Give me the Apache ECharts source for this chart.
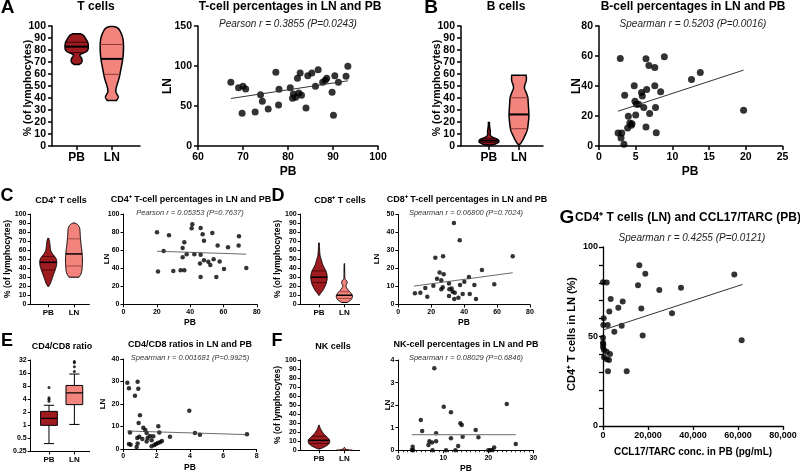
<!DOCTYPE html>
<html><head><meta charset="utf-8">
<script src="https://cdn.jsdelivr.net/npm/echarts@6/dist/echarts.min.js"></script>
<style>html,body{margin:0;padding:0;background:#fff}#c{width:800px;height:473px}</style>
</head><body><div id="c"></div>
<script>
// ---------------- DATA ----------------
const groups = ['PB', 'LN'];

// A: T cells  (violin profiles: [value, relative density])
const tcellPB_profile = [[68,0.22],[69,0.38],[70.5,0.46],[72,0.46],[73.5,0.4],[75,0.3],[76,0.3],[77,0.45],[78,0.7],[79,0.88],[80.5,0.98],[83,1],[85.5,0.98],[87.5,0.9],[89.5,0.78],[91,0.68],[92.5,0.55],[93.5,0.35]];
const tcellLN_profile = [[38,0.4],[39.5,0.5],[41,0.55],[43,0.45],[45,0.35],[47,0.35],[50,0.42],[54,0.55],[58,0.66],[62,0.74],[66,0.82],[70,0.9],[75,0.97],[80,1],[85,1],[89,0.96],[92,0.88],[95,0.75],[97.5,0.6],[99,0.4],[99.5,0.2]];
const tcellPB_quart = [77.8, 82.8, 86.5];
const tcellLN_quart = [59.7, 72.6, 84.6];
const tcellPairs = [[67.3,79.6],[69.0,72.9],[70.0,74.6],[70.6,71.3],[69.8,40.8],[72.7,42.5],[73.9,64.2],[74.3,55.8],[75.6,46.3],[77.3,92.1],[78.0,70.8],[77.9,51.3],[80.5,72.9],[81.0,59.6],[81.2,65.0],[81.7,60.8],[82.1,84.6],[82.4,66.3],[82.7,91.3],[83.0,63.3],[84.0,47.5],[84.4,87.9],[85.3,91.3],[86.1,74.6],[86.7,95.4],[87.7,79.6],[88.3,82.1],[88.6,84.6],[89.8,67.1],[90.1,38.3],[90.4,87.9],[91.2,79.6],[92.9,87.1],[93.3,99.6]];
const tcellFit = [[67.3,59.4],[93.3,81.5]];

// B: B cells
const bcellPB_profile = [[0.8,0.35],[1.5,0.6],[2.5,0.85],[3.5,1],[5,0.95],[6,0.75],[7,0.45],[8,0.25],[9,0.15],[10.5,0.12],[12,0.14],[13.5,0.12],[15,0.08],[17,0.06],[19.5,0.05]];
const bcellLN_profile = [[1,0.06],[3,0.25],[6,0.45],[9,0.62],[12,0.78],[15,0.88],[20,0.95],[25,1],[30,0.98],[35,0.94],[40,0.9],[43,0.8],[46,0.65],[48.5,0.55],[51,0.6],[54,0.72],[57,0.75],[59,0.72]];
const bcellPB_quart = [2.8, 4.5, 6.2];
const bcellLN_quart = [14.4, 26.3, 40.2];
const bcellPairs = [[2.9,58.4],[2.6,8.7],[3.1,8.7],[3.0,5.3],[3.4,1.1],[3.5,33.9],[3.9,12.0],[4.0,19.8],[4.2,15.4],[4.4,13.8],[4.5,14.9],[4.8,40.1],[4.9,29.8],[5.0,20.7],[5.1,27.8],[5.4,27.8],[5.8,35.6],[5.9,33.4],[6.1,25.6],[6.4,12.7],[6.4,58.1],[6.5,37.6],[6.8,53.7],[6.9,21.6],[7.6,52.3],[7.6,40.1],[7.7,25.6],[7.8,8.9],[8.4,36.1],[8.9,59.5],[12.6,44.3],[13.8,49.0],[19.7,23.8]];
const bcellFit = [[2.6,23.2],[19.7,50.6]];

// C: CD4+ T cells
const cd4PB_profile = [[20,0.08],[23,0.25],[27,0.4],[31,0.55],[35,0.7],[39,0.85],[43,0.97],[47,1],[50,0.95],[53,0.75],[56,0.5],[59,0.32],[62,0.25],[66,0.2],[70,0.15],[73,0.08]];
const cd4LN_profile = [[30,0.6],[33,0.8],[37,0.92],[42,0.98],[48,1],[54,0.98],[60,0.92],[65,0.85],[70,0.8],[75,0.75],[80,0.72],[84,0.68],[87,0.55],[89,0.35],[90,0.12]];
const cd4PB_quart = [38, 46.5, 53];
const cd4LN_quart = [42.5, 55.8, 72.5];
const cd4Pairs = [[20.1,79.8],[27.3,76.5],[41.3,88.6],[40.9,84.2],[46.3,84.5],[47.5,77.6],[53.3,79.0],[36.5,68.7],[48.3,70.5],[56.5,65.0],[62.7,63.2],[69.1,65.0],[69.3,75.4],[24.1,59.1],[35.5,62.4],[37.9,55.5],[35.5,52.2],[42.5,55.5],[46.3,55.0],[48.3,48.8],[54.1,49.9],[50.9,47.0],[52.1,43.6],[57.7,47.3],[45.9,45.1],[20.7,36.2],[29.9,37.0],[34.3,37.8],[36.5,37.8],[60.3,39.2],[73.7,40.3],[46.3,30.1],[55.7,30.1]];
const cd4Fit = [[20.1,58.8],[73.7,55.5]];

// D: CD8+ T cells
const cd8PB_profile = [[10,0.05],[12,0.2],[15,0.45],[19,0.7],[23,0.88],[28,1],[33,0.98],[37,0.85],[41,0.62],[45,0.42],[49,0.3],[53,0.16],[57,0.1],[62,0.07],[68,0.04]];
const cd8LN_profile = [[2,0.35],[4,0.7],[6,0.9],[9,1],[12,0.85],[15,0.55],[18,0.3],[20,0.2],[22,0.25],[24,0.35],[26,0.28],[28,0.08],[32,0.05],[38,0.04],[45,0.03]];
const cd8PB_quart = [24, 30, 37];
const cd8LN_quart = [6.5, 10, 14];
const cd8Pairs = [[33.8,45.2],[37.3,35.6],[22.5,25.9],[27.2,26.8],[69.5,26.8],[50.8,19.1],[25.1,17.8],[27.6,16.7],[42.9,15.2],[23.5,14.3],[26.1,13.5],[10.1,6.2],[13.4,6.5],[17.6,4.3],[16.4,9.1],[21.3,10.4],[26.1,8.4],[27.0,9.5],[30.8,11.7],[31.0,8.4],[32.4,8.9],[33.0,7.1],[34.3,6.5],[30.8,4.7],[34.0,3.0],[36.5,3.8],[37.5,10.8],[39.1,5.8],[40.1,12.6],[43.4,5.8],[46.2,10.8],[47.2,3.0],[58.3,11.2]];
const cd8Fit = [[9.5,10.2],[69.5,17.6]];

// E: CD4/CD8 ratio  (box: min, Q1, median, Q3, max)
const ratioPB_box = [0.38, 1.0, 1.45, 2.1, 2.9];
const ratioLN_box = [1.05, 3.0, 5.6, 8.3, 15.2];
const ratioPB_out = [3.6, 4.0, 4.3, 7.4];
const ratioLN_out = [17.5, 22.5, 27.5, 29.5];
const ratioTicks = [0.25, 0.5, 1, 2, 4, 8, 16, 32];
const ratioPairs = [[0.24,29.5],[0.34,27.0],[0.70,23.7],[0.40,7.3],[0.34,2.2],[0.44,1.9],[0.86,29.9],[0.90,26.8],[1.0,15.0],[0.92,11.6],[0.84,4.9],[0.96,5.4],[0.86,2.4],[0.80,0.9],[1.2,9.4],[1.32,8.5],[1.4,7.1],[1.14,4.5],[1.46,4.9],[1.4,3.3],[1.6,5.8],[1.8,5.7],[1.7,3.9],[1.7,1.2],[1.86,1.8],[1.96,2.2],[2.1,10.1],[2.16,7.3],[2.07,2.7],[2.2,3.0],[2.32,3.6],[2.8,5.4],[3.96,17.0],[4.3,7.1],[4.6,6.3],[7.42,6.6]];
const ratioFit = [[0.24,8.0],[7.42,6.4]];

// F: NK cells
const nkPB_profile = [[1.5,0.1],[3,0.4],[5,0.7],[7,0.92],[9,1],[11,1],[13,0.9],[15,0.72],[17,0.55],[19,0.4],[21,0.28],[23,0.18],[25,0.1],[27,0.05],[28,0.02]];
const nkLN_profile = [[0,0.75],[0.2,0.45],[0.5,0.28],[1,0.2],[1.5,0.15],[2.2,0.08],[3,0.03]];
const nkPB_quart = [7.5, 11, 15.5];
const nkLN_quart = [0.1, 0.3, 0.6];
const nkPairs = [[8.0,3.63],[3.0,0.01],[3.2,0.16],[3.3,0],[5.0,1.34],[5.3,0.86],[6.7,0.24],[6.9,0.4],[7.5,0.34],[7.6,0],[8.4,0.4],[8.4,0.75],[10.1,1.93],[10.6,0],[11.7,1.68],[11.7,0.53],[12.7,0],[13.3,0.19],[13.8,1.2],[14.1,1.12],[14.3,0.6],[17.2,0.9],[17.8,0.58],[20.0,0],[20.4,0],[20.9,0.01],[21.3,0.12],[24.1,2.05],[26.1,0.28]];
const nkFit = [[3.0,0.69],[26.1,0.69]];

// G: CD4+ T cells (LN) vs CCL17/TARC (PB)
const tarcPairs = [[16133,89.8],[18800,85.1],[0,80.3],[1640,80.1],[15556,78.6],[25022,76.0],[34667,77.3],[58356,84.7],[3422,71.0],[8756,69.5],[6800,66.1],[2800,63.9],[17022,65.7],[30667,63.0],[311,60.2],[133,56.4],[2089,56.4],[8311,56.0],[5022,52.7],[17630,50.6],[0,49.3],[0,46.5],[133,45.6],[0,44.0],[444,42.5],[1630,41.5],[3111,40.2],[444,38.4],[1630,37.3],[2667,36.9],[2222,30.6],[10533,30.6],[61630,47.9]];
const tarcFit = [[0,53.6],[62000,79.1]];

// ---------------- RENDERING ----------------
const FONT = 'Arial, "Liberation Sans", Helvetica, sans-serif';
const PB_COLOR = '#9E1B20', LN_COLOR = '#F3837D';
const Q_COLORS = ['#3a0407', '#8a3a36'];

const option = {animation:false, backgroundColor:'#fff', grid:[], xAxis:[], yAxis:[], series:[], graphic:[]};

function axis(min, max, interval, st, extra) {
  const a = {
    type:'value', min:min, max:max,
    axisLine:{show:true, onZero:false, lineStyle:{color:'#000', width:st.lw}},
    axisTick:{show:true, length:st.tl, lineStyle:{color:'#000', width:st.lw}},
    axisLabel:{color:'#000', fontSize:st.fs, fontWeight:'bold', fontFamily:FONT, margin:st.m},
    splitLine:{show:false}
  };
  if (interval != null) a.interval = interval;
  if (extra) {
    if (extra.label) Object.assign(a.axisLabel, extra.label);
    if (extra.tick) Object.assign(a.axisTick, extra.tick);
    if (extra.minor) a.minorTick = extra.minor;
  }
  return a;
}
function addPanel(grid, xa, ya) {
  option.grid.push(grid);
  const gi = option.grid.length - 1;
  xa.gridIndex = gi; ya.gridIndex = gi;
  option.xAxis.push(xa); option.yAxis.push(ya);
  return gi;
}
function catAxis(min, max, st, fs) {
  return axis(min, max, null, st, {
    label:{customValues:[0,1], formatter:function(v){return groups[Math.round(v)];}, fontSize:fs},
    tick:{customValues:[0,1]}
  });
}
function densify(prof, n) {
  const out = [];
  for (let k = 0; k < prof.length - 1; k++) {
    const p0 = prof[Math.max(k-1,0)], p1 = prof[k], p2 = prof[k+1], p3 = prof[Math.min(k+2, prof.length-1)];
    for (let s = 0; s < n; s++) {
      const t = s / n, t2 = t*t, t3 = t2*t;
      const d = 0.5*((2*p1[1]) + (-p0[1]+p2[1])*t + (2*p0[1]-5*p1[1]+4*p2[1]-p3[1])*t2 + (-p0[1]+3*p1[1]-3*p2[1]+p3[1])*t3);
      out.push([p1[0] + (p2[0]-p1[0])*t, Math.max(0.01, d)]);
    }
  }
  out.push(prof[prof.length-1]);
  return out;
}
function interpD(prof, v) {
  for (let k = 0; k < prof.length - 1; k++) {
    const a = prof[k], b = prof[k+1];
    if (v >= a[0] && v <= b[0]) return a[1] + (b[1]-a[1]) * (v-a[0]) / ((b[0]-a[0]) || 1);
  }
  return 0;
}
function violinSeries(gi, profiles, quarts, hw, lw, medW, qW) {
  const dens = profiles.map(function(p){return densify(p, 6);});
  return {
    type:'custom', xAxisIndex:gi, yAxisIndex:gi, silent:true,
    data: quarts.map(function(q, i){return [i, q[1]];}),
    renderItem: function(params, api) {
      const i = params.dataIndex, pos = api.value(0), prof = dens[i];
      const left = [], right = [];
      prof.forEach(function(p){
        left.push(api.coord([pos - hw*p[1], p[0]]));
        right.push(api.coord([pos + hw*p[1], p[0]]));
      });
      const children = [{type:'polygon', shape:{points:left.concat(right.reverse())},
        style:{fill: i === 0 ? PB_COLOR : LN_COLOR, stroke:'#000', lineWidth:lw}}];
      quarts[i].forEach(function(q, k){
        const d = interpD(prof, q);
        const a = api.coord([pos - hw*d, q]), b = api.coord([pos + hw*d, q]);
        children.push({type:'line', shape:{x1:a[0], y1:a[1], x2:b[0], y2:b[1]},
          style:{stroke: k === 1 ? '#000' : Q_COLORS[i], lineWidth: k === 1 ? medW : qW}});
      });
      return {type:'group', children:children};
    }
  };
}
function scatterSeries(gi, pairs, size) {
  return {type:'scatter', xAxisIndex:gi, yAxisIndex:gi, data:pairs, symbol:'circle', symbolSize:size, itemStyle:{color:'#000'}, silent:true};
}
function fitSeries(gi, fit, color, w) {
  return {type:'line', xAxisIndex:gi, yAxisIndex:gi, data:fit, symbol:'none', lineStyle:{color:color, width:w}, silent:true};
}
function txt(x, y, text, size, o) {
  o = o || {};
  return {type:'text', x:x, y:y, rotation:o.rot || 0, silent:true, z:100,
    style:{text:text, fontSize:size, fontWeight:o.italic ? 'normal' : 'bold', fontStyle:o.italic ? 'italic' : 'normal',
      fontFamily:FONT, fill:o.color || '#000', align:'center', verticalAlign:'middle'}};
}

const BIG = {fs:10.5, lw:1.5, tl:4, m:6};
const SM = {fs:7, lw:1, tl:3, m:4};
const GS = {fs:9, lw:1.3, tl:4, m:5};

// ---- Panel A ----
let g = addPanel({left:52, top:26, width:88, height:120}, catAxis(-0.7, 1.8, BIG, 12), axis(0, 100, 10, BIG));
option.series.push(violinSeries(g, [tcellPB_profile, tcellLN_profile], [tcellPB_quart, tcellLN_quart], 0.33, 1.5, 2, 1));
g = addPanel({left:198, top:26, width:180, height:120}, axis(60, 100, 10, BIG), axis(0, 150, 50, BIG));
option.series.push(fitSeries(g, tcellFit, '#333', 1), scatterSeries(g, tcellPairs, 7));

// ---- Panel B ----
g = addPanel({left:461, top:26, width:82, height:120}, catAxis(-0.93, 1.8, BIG, 12), axis(0, 100, 10, BIG));
option.series.push(violinSeries(g, [bcellPB_profile, bcellLN_profile], [bcellPB_quart, bcellLN_quart], 0.33, 1.5, 2, 1));
g = addPanel({left:599, top:26, width:183.5, height:120}, axis(0, 25, 5, BIG), axis(0, 80, 20, BIG));
option.series.push(fitSeries(g, bcellFit, '#333', 1), scatterSeries(g, bcellPairs, 7));

// ---- Panel C ----
g = addPanel({left:30.5, top:214, width:58.9, height:90.3}, catAxis(-0.69, 1.6, SM, 8), axis(0, 100, 10, SM));
option.series.push(violinSeries(g, [cd4PB_profile, cd4LN_profile], [cd4PB_quart, cd4LN_quart], 0.33, 1, 1.5, 0.8));
g = addPanel({left:123.5, top:214, width:133.3, height:90.3}, axis(0, 80, 20, SM), axis(0, 100, 20, SM));
option.series.push(fitSeries(g, cd4Fit, '#444', 0.8), scatterSeries(g, cd4Pairs, 4.5));

// ---- Panel D ----
g = addPanel({left:300.7, top:214, width:58.9, height:90.3}, catAxis(-0.72, 1.6, SM, 8), axis(0, 100, 10, SM));
option.series.push(violinSeries(g, [cd8PB_profile, cd8LN_profile], [cd8PB_quart, cd8LN_quart], 0.32, 1, 1.5, 0.8));
g = addPanel({left:398.3, top:214.3, width:131.7, height:90.2}, axis(0, 80, 20, SM), axis(0, 50, 10, SM));
option.series.push(fitSeries(g, cd8Fit, '#444', 0.8), scatterSeries(g, cd8Pairs, 4.5));

// ---- Panel E ----
const logTicks = ratioTicks.map(Math.log2);
g = addPanel({left:30.7, top:360, width:58.9, height:91.5}, catAxis(-0.72, 1.6, SM, 8),
  axis(logTicks[0], logTicks[logTicks.length-1], 1, SM, {label:{formatter:function(v){return String(Math.pow(2, v));}}}));
const boxData = [ratioPB_box, ratioLN_box].map(function(b, i){return [i].concat(b.map(Math.log2));});
option.series.push({
  type:'custom', xAxisIndex:g, yAxisIndex:g, silent:true, data:boxData,
  encode:{x:0, y:[1,2,3,4,5]},
  renderItem:function(params, api){
    const pos = api.value(0), i = params.dataIndex;
    const mn = api.value(1), q1 = api.value(2), md = api.value(3), q3 = api.value(4), mx = api.value(5);
    const bw = 0.33, cw = 0.2;
    const c = function(x, y){return api.coord([x, y]);};
    const ln = function(a, b, w){return {type:'line', shape:{x1:a[0], y1:a[1], x2:b[0], y2:b[1]}, style:{stroke:'#000', lineWidth:w || 1}};};
    const tl = c(pos - bw, q3), br = c(pos + bw, q1);
    return {type:'group', children:[
      ln(c(pos, mn), c(pos, q1)), ln(c(pos, q3), c(pos, mx)),
      ln(c(pos - cw, mn), c(pos + cw, mn)), ln(c(pos - cw, mx), c(pos + cw, mx)),
      {type:'rect', shape:{x:tl[0], y:tl[1], width:br[0]-tl[0], height:br[1]-tl[1]}, style:{fill: i === 0 ? PB_COLOR : LN_COLOR, stroke:'#000', lineWidth:1}},
      ln(c(pos - bw, md), c(pos + bw, md), 1.2)
    ]};
  }
});
const outliers = ratioPB_out.map(function(v){return [0, Math.log2(v)];}).concat(ratioLN_out.map(function(v){return [1, Math.log2(v)];}));
option.series.push(scatterSeries(g, outliers, 3));
g = addPanel({left:123.3, top:359, width:133.3, height:90}, axis(0, 8, 2, SM), axis(0, 40, 10, SM));
option.series.push(fitSeries(g, ratioFit, '#444', 0.8), scatterSeries(g, ratioPairs, 4.5));

// ---- Panel F ----
g = addPanel({left:300.7, top:360, width:58.9, height:90.3}, catAxis(-0.72, 1.6, SM, 8), axis(0, 100, 10, SM));
option.series.push(violinSeries(g, [nkPB_profile, nkLN_profile], [nkPB_quart, nkLN_quart], 0.42, 1, 1.5, 0.8));
g = addPanel({left:398.3, top:360, width:135, height:90.3},
  axis(0, 30, 10, SM, {minor:{show:true, splitNumber:10, length:2, lineStyle:{color:'#000', width:0.8}}}), axis(0, 4, 1, SM));
option.series.push(fitSeries(g, nkFit, '#888', 1.2), scatterSeries(g, nkPairs, 4.5));

// ---- Panel G ----
g = addPanel({left:603, top:247, width:180, height:179}, axis(0, 80000, 20000, GS),
  axis(0, 100, 10, GS, {label:{formatter:function(v){return v % 50 === 0 ? String(v) : '';}}}));
option.series.push(fitSeries(g, tarcFit, '#333', 1), scatterSeries(g, tarcPairs, 6));

// ---- Texts ----
const sup = '\u207A';
option.graphic = [
  txt(7.5, 8, 'A', 19), txt(431, 8, 'B', 19),
  txt(96, 7, 'T cells', 12), txt(290, 7, 'T-cell percentages in LN and PB', 12),
  txt(506, 7, 'B cells', 12), txt(693, 7, 'B-cell percentages in LN and PB', 12),
  txt(288, 24, 'Pearson r = 0.3855 (P=0.0243)', 10, {italic:true, color:'#222'}),
  txt(693, 24, 'Spearman r = 0.5203 (P=0.0016)', 10, {italic:true, color:'#222'}),
  txt(28.5, 88, '% (of lymphocytes)', 10.5, {rot:Math.PI/2}), txt(437.5, 88, '% (of lymphocytes)', 10.5, {rot:Math.PI/2}),
  txt(168, 86, 'LN', 12, {rot:Math.PI/2}), txt(577, 86, 'LN', 12, {rot:Math.PI/2}),
  txt(288, 172, 'PB', 12), txt(690, 172, 'PB', 12),

  txt(7, 196, 'C', 18), txt(278, 196, 'D', 18),
  txt(61, 201, 'CD4' + sup + ' T cells', 9), txt(191, 200, 'CD4' + sup + ' T-cell percentages in LN and PB', 9),
  txt(340, 201, 'CD8' + sup + ' T cells', 9), txt(467, 200, 'CD8' + sup + ' T-cell percentages in LN and PB', 9),
  txt(190, 212.5, 'Pearson r = 0.05353 (P=0.7637)', 7.5, {italic:true, color:'#333'}),
  txt(466, 212.5, 'Spearman r = 0.06800 (P=0.7024)', 7.5, {italic:true, color:'#333'}),
  txt(8, 259, '% (of lymphocytes)', 8.5, {rot:Math.PI/2}), txt(278, 259, '% (of lymphocytes)', 8.5, {rot:Math.PI/2}),
  txt(107, 259, 'LN', 8, {rot:Math.PI/2}), txt(377, 259, 'LN', 8, {rot:Math.PI/2}),
  txt(190, 323, 'PB', 8.5), txt(464, 323, 'PB', 8.5),

  txt(7, 341, 'E', 18), txt(277, 341, 'F', 18),
  txt(62, 347, 'CD4/CD8 ratio', 9), txt(190, 345, 'CD4/CD8 ratios in LN and PB', 9),
  txt(333, 347, 'NK cells', 9), txt(466, 345, 'NK-cell percentages in LN and PB', 9),
  txt(190, 357.5, 'Spearman r = 0.001681 (P=0.9925)', 7.5, {italic:true, color:'#333'}),
  txt(466, 357.5, 'Spearman r = 0.08029 (P=0.6846)', 7.5, {italic:true, color:'#333'}),
  txt(278, 405, '% (of lymphocytes)', 8.5, {rot:Math.PI/2}),
  txt(103, 404, 'LN', 8, {rot:Math.PI/2}), txt(388, 405, 'LN', 8, {rot:Math.PI/2}),
  txt(190, 468, 'PB', 8.5), txt(466, 469, 'PB', 8.5),

  txt(567, 218, 'G', 19), txt(688, 218, 'CD4' + sup + ' T cells (LN) and CCL17/TARC (PB)', 12),
  txt(692, 238, 'Spearman r = 0.4255 (P=0.0121)', 10, {italic:true, color:'#222'}),
  txt(572, 334, 'CD4' + sup + ' T cells in LN (%)', 11, {rot:Math.PI/2}),
  txt(693, 452, 'CCL17/TARC conc. in PB (pg/mL)', 10)
];

const chart = echarts.init(document.getElementById('c'), null, {renderer:'canvas'});
chart.setOption(option);
</script></body></html>
